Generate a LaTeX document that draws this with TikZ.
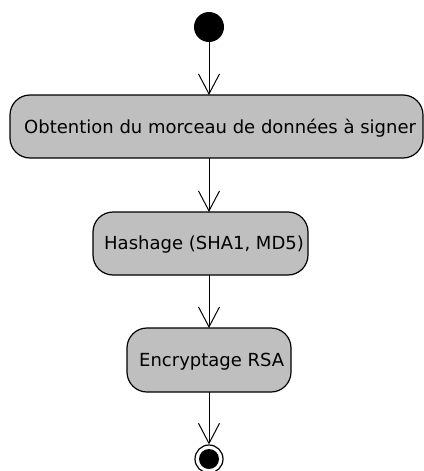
\documentclass[tikz,border=0pt]{standalone}
\usepackage{fontspec}
\setmainfont{DejaVu Sans}
\usetikzlibrary{arrows.meta}
\tikzset{
  act/.style={draw=black, fill=black!25, line width=1.2pt, rounded corners=20pt},
  lbl/.style={anchor=base west, inner sep=0pt, font=\fontsize{18}{20}\selectfont},
  flow/.style={draw=black, line width=1pt, -{Straight Barb[length=20pt, width=21pt, line width=1pt]}}
}
\begin{document}
\begin{tikzpicture}[x=1pt, y=-1pt]
\useasboundingbox (0,0) rectangle (423,471);
% start
\node[circle, fill=black, minimum size=30pt, inner sep=0pt] (start) at (209,27) {};
% activities
\draw[act] (10,95) rectangle (423,158);
\coordinate (b1t) at (209,95);
\coordinate (b1b) at (209,158);
\node[lbl] (t1) at (24,133) {Obtention du morceau de données à signer};
\draw[act] (93,212) rectangle (308,275);
\coordinate (b2t) at (209,212);
\coordinate (b2b) at (209,275);
\node[lbl] (t2) at (104,249.5) {Hashage (SHA1, MD5)};
\draw[act] (127,328) rectangle (291,392);
\coordinate (b3t) at (209,328);
\coordinate (b3b) at (209,392);
\node[lbl] (t3) at (139,366) {Encryptage RSA};
% end
\node[circle, draw=black, line width=1.2pt, fill=white, minimum size=28pt, inner sep=0pt] (endo) at (209,459) {};
\node[circle, fill=black, minimum size=20pt, inner sep=0pt] (endi) at (209,459) {};
% flows
\draw[flow] (start.south) -- (b1t);
\draw[flow] (b1b) -- (b2t);
\draw[flow] (b2b) -- (b3t);
\draw[flow] (b3b) -- (endo.north);
\end{tikzpicture}
\end{document}
